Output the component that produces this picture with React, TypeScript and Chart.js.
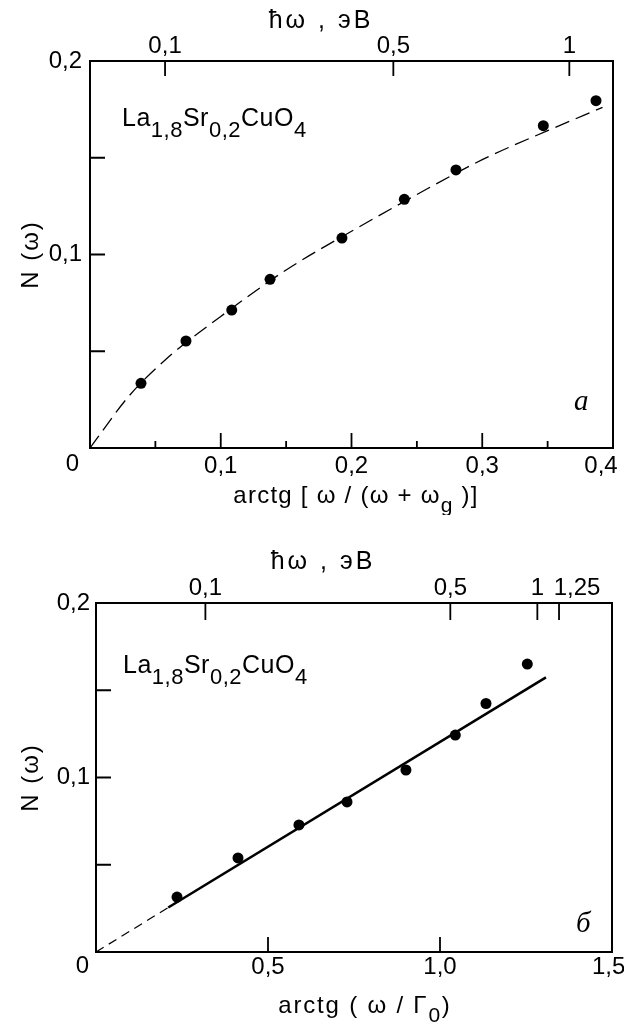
import React, { useEffect, useRef } from "react";
import { Chart, registerables } from "chart.js";

Chart.register(...registerables);
Chart.defaults.color = "#000";

const FONT = '"Liberation Sans", Arial, Helvetica, sans-serif';
const SERIF = '"Liberation Serif", "Times New Roman", serif';

// ---------- Panel a ----------
const aPointsX = [0.039, 0.0734, 0.1084, 0.1377, 0.1927, 0.2404, 0.2799, 0.3467, 0.387];
const aPointsY = [0.0334, 0.0553, 0.0713, 0.0872, 0.1085, 0.1285, 0.1437, 0.1666, 0.1795];
const aCurveX = [0, 0.03, 0.06, 0.1, 0.15, 0.2, 0.25, 0.3, 0.35, 0.392];
const aCurveY = [0, 0.027, 0.047, 0.068, 0.092, 0.112, 0.131, 0.149, 0.164, 0.176];
const aBottomTicks = [0, 0.1, 0.2, 0.3, 0.4];
const aBottomTickLabels = ["", "0,1", "0,2", "0,3", "0,4\u2002\u2002"];
const aBottomMinor = [0.05, 0.15, 0.25, 0.35];
const aBottomMajor = [0.1, 0.2, 0.3];
const aTopTickPos = [0.0574, 0.232, 0.3666];
const aTopTickLabels = ["0,1", "0,5", "1"];

// ---------- Panel б ----------
const bPointsX = [0.2355, 0.4128, 0.59, 0.7297, 0.901, 1.0445, 1.1337, 1.2538];
const bPointsY = [0.0315, 0.0539, 0.0728, 0.086, 0.1043, 0.1243, 0.1424, 0.165];
const bFitX = [0.21, 1.308];
const bFitY = [0.0255, 0.1574];
const bDashX = [0, 0.21];
const bDashY = [0, 0.0255];
const bBottomTicks = [0, 0.5, 1.0, 1.5];
const bBottomTickLabels = ["", "0,5", "1,0", "1,5 "];
const bBottomMajor = [0.5, 1.0];
const bTopTickPos = [0.318, 1.03, 1.283, 1.346];
const bTopTickLabels = ["0,1", "0,5", "1", "\u2002\u2002\u20021,25"];

// shared y axis
const yTicks = [0, 0.1, 0.2];
const yTickLabels = ["", "0,1", "0,2"];
const yInnerTicks = [0.05, 0.1, 0.15];

type Run = { t: string; sub?: boolean };

function drawRuns(
  ctx: CanvasRenderingContext2D,
  runs: Run[],
  x: number,
  y: number,
  size: number,
  subSize: number,
  subDrop: number,
  align: "left" | "center",
  spacing = 0,
  family = FONT
) {
  (ctx as any).letterSpacing = `${spacing}px`;
  const widths = runs.map((r) => {
    ctx.font = `${r.sub ? subSize : size}px ${family}`;
    return ctx.measureText(r.t).width;
  });
  const total = widths.reduce((a, b) => a + b, 0);
  let cx = align === "center" ? x - total / 2 : x;
  ctx.textAlign = "left";
  ctx.textBaseline = "alphabetic";
  runs.forEach((r, i) => {
    ctx.font = `${r.sub ? subSize : size}px ${family}`;
    ctx.fillText(r.t, cx, r.sub ? y + subDrop : y);
    cx += widths[i];
  });
  (ctx as any).letterSpacing = "0px";
}

type PanelCfg = {
  height: number;
  xMax: number;
  padRight: number;
  leftW: number;
  topH: number;
  bottomH: number;
  yTickPad: number;
  xTickPad: number;
  x2TickPad: number;
  pointsX: number[];
  pointsY: number[];
  lines: { x: number[]; y: number[]; dash: number[]; width: number; smooth: boolean }[];
  bottomTicks: number[];
  bottomLabels: string[];
  bottomMajor: number[];
  bottomMinor: number[];
  topPos: number[];
  topLabels: string[];
  topTickLen: number;
  topTitle: { x: number; y: number };
  xTitle: Run[];
  xTitlePos: { x: number; y: number };
  xTitleSpacing: number;
  formulaPos: { x: number; y: number };
  letter: string;
  letterPos: { x: number; y: number };
  zeroPos: { x: number; y: number };
};

const formula: Run[] = [
  { t: "La" },
  { t: "1,8", sub: true },
  { t: "Sr" },
  { t: "0,2", sub: true },
  { t: "CuO" },
  { t: "4", sub: true },
];

const panelA: PanelCfg = {
  height: 515,
  xMax: 0.4,
  padRight: 11,
  leftW: 90,
  topH: 61,
  bottomH: 67,
  yTickPad: 8,
  xTickPad: 4,
  x2TickPad: 0,
  pointsX: aPointsX,
  pointsY: aPointsY,
  lines: [{ x: aCurveX, y: aCurveY, dash: [15, 7], width: 1.3, smooth: true }],
  bottomTicks: aBottomTicks,
  bottomLabels: aBottomTickLabels,
  bottomMajor: aBottomMajor,
  bottomMinor: aBottomMinor,
  topPos: aTopTickPos,
  topLabels: aTopTickLabels,
  topTickLen: 15,
  topTitle: { x: 321, y: 28 },
  xTitle: [{ t: "arctg [ ω / (ω + ω" }, { t: "g", sub: true }, { t: " )]" }],
  xTitlePos: { x: 356, y: 503 },
  xTitleSpacing: 1.25,
  formulaPos: { x: 122, y: 126 },
  letter: "a",
  letterPos: { x: 574, y: 410 },
  zeroPos: { x: 72.5, y: 464 },
};

const panelB: PanelCfg = {
  height: 508,
  xMax: 1.5,
  padRight: 12,
  leftW: 96,
  topH: 88,
  bottomH: 71,
  yTickPad: 6,
  xTickPad: 1,
  x2TickPad: 0,
  pointsX: bPointsX,
  pointsY: bPointsY,
  lines: [
    { x: bDashX, y: bDashY, dash: [9, 6], width: 1.2, smooth: false },
    { x: bFitX, y: bFitY, dash: [], width: 2.6, smooth: false },
  ],
  bottomTicks: bBottomTicks,
  bottomLabels: bBottomTickLabels,
  bottomMajor: bBottomMajor,
  bottomMinor: [],
  topPos: bTopTickPos,
  topLabels: bTopTickLabels,
  topTickLen: 17,
  topTitle: { x: 323, y: 54 },
  xTitle: [{ t: "arctg ( ω / Γ" }, { t: "0", sub: true }, { t: ")" }],
  xTitlePos: { x: 365, y: 498 },
  xTitleSpacing: 1.8,
  formulaPos: { x: 123, y: 158 },
  letter: "б",
  letterPos: { x: 576, y: 417 },
  zeroPos: { x: 82.5, y: 451 },
};

function Panel({ cfg, top }: { cfg: PanelCfg; top: number }) {
  const ref = useRef<HTMLCanvasElement | null>(null);
  useEffect(() => {
    if (!ref.current) return;
    const tickFont = { family: FONT, size: 24 };
    const decor = {
      id: "decor",
      afterDraw(chart: any) {
        const ctx: CanvasRenderingContext2D = chart.ctx;
        const xs = chart.scales.x;
        const ys = chart.scales.y;
        const x2 = chart.scales.x2;
        const area = chart.chartArea;
        ctx.save();
        ctx.strokeStyle = "#000";
        ctx.fillStyle = "#000";
        ctx.lineWidth = 1.8;
        ctx.beginPath();
        cfg.bottomMajor.forEach((v) => {
          const px = xs.getPixelForValue(v);
          ctx.moveTo(px, area.bottom);
          ctx.lineTo(px, area.bottom - 15);
        });
        cfg.bottomMinor.forEach((v) => {
          const px = xs.getPixelForValue(v);
          ctx.moveTo(px, area.bottom);
          ctx.lineTo(px, area.bottom - 7);
        });
        yInnerTicks.forEach((v) => {
          const py = ys.getPixelForValue(v);
          ctx.moveTo(area.left, py);
          ctx.lineTo(area.left + 15, py);
        });
        cfg.topPos.forEach((v) => {
          const px = x2.getPixelForValue(v);
          ctx.moveTo(px, area.top);
          ctx.lineTo(px, area.top + cfg.topTickLen);
        });
        ctx.stroke();

        // texts
        ctx.textAlign = "center";
        ctx.textBaseline = "middle";
        ctx.font = `24px ${FONT}`;
        ctx.fillText("0", cfg.zeroPos.x, cfg.zeroPos.y);

        drawRuns(ctx, [{ t: "ħω , эВ" }], cfg.topTitle.x, cfg.topTitle.y, 25, 25, 0, "center", 3);
        drawRuns(ctx, cfg.xTitle, cfg.xTitlePos.x, cfg.xTitlePos.y, 24, 21, 9, "center", cfg.xTitleSpacing);
        drawRuns(ctx, formula, cfg.formulaPos.x, cfg.formulaPos.y, 25, 22, 11, "left", 0.5);

        // y axis title (rotated)
        ctx.save();
        ctx.translate(31, (area.top + area.bottom) / 2);
        ctx.rotate(-Math.PI / 2);
        (ctx as any).letterSpacing = "2px";
        ctx.font = `24px ${FONT}`;
        ctx.textAlign = "center";
        ctx.textBaseline = "middle";
        ctx.fillText("N (ω)", 0, 0);
        ctx.restore();

        ctx.font = `italic 29px ${SERIF}`;
        ctx.textAlign = "left";
        ctx.textBaseline = "alphabetic";
        ctx.fillText(cfg.letter, cfg.letterPos.x, cfg.letterPos.y);
        ctx.restore();
      },
    };

    const datasets: any[] = cfg.lines.map((l) => ({
      type: "line",
      data: l.x.map((x, i) => ({ x, y: l.y[i] })),
      borderColor: "#000",
      borderWidth: l.width,
      borderDash: l.dash,
      pointRadius: 0,
      fill: false,
      showLine: true,
      cubicInterpolationMode: l.smooth ? "monotone" : "default",
      xAxisID: "x",
      yAxisID: "y",
      order: 2,
    }));
    datasets.push({
      type: "scatter",
      data: cfg.pointsX.map((x, i) => ({ x, y: cfg.pointsY[i] })),
      backgroundColor: "#000",
      borderColor: "#000",
      pointRadius: 5.5,
      pointBorderWidth: 0,
      xAxisID: "x",
      yAxisID: "y",
      order: 1,
    });

    const border = { display: true, color: "#000", width: 2 };
    const grid = { display: false, drawTicks: false };
    const chart = new Chart(ref.current, {
      type: "scatter",
      data: { datasets },
      plugins: [decor],
      options: {
        animation: false,
        responsive: false,
        maintainAspectRatio: false,
        devicePixelRatio: 1,
        layout: { padding: { left: 0, right: cfg.padRight, top: 0, bottom: 0 } },
        plugins: { legend: { display: false }, tooltip: { enabled: false } },
        scales: {
          x: {
            type: "linear",
            position: "bottom",
            min: 0,
            max: cfg.xMax,
            grid,
            border,
            afterBuildTicks: (s: any) => {
              s.ticks = cfg.bottomTicks.map((value) => ({ value }));
            },
            afterFit: (s: any) => {
              s.height = cfg.bottomH;
              s.paddingLeft = 0;
              s.paddingRight = 0;
            },
            ticks: {
              autoSkip: false,
              maxRotation: 0,
              padding: cfg.xTickPad,
              font: tickFont,
              color: "#000",
              callback: (_v: any, i: number) => cfg.bottomLabels[i],
            },
          },
          x2: {
            type: "linear",
            position: "top",
            min: 0,
            max: cfg.xMax,
            grid,
            border,
            afterBuildTicks: (s: any) => {
              s.ticks = cfg.topPos.map((value) => ({ value }));
            },
            afterFit: (s: any) => {
              s.height = cfg.topH;
              s.paddingLeft = 0;
              s.paddingRight = 0;
            },
            ticks: {
              autoSkip: false,
              maxRotation: 0,
              padding: cfg.x2TickPad,
              font: tickFont,
              color: "#000",
              callback: (_v: any, i: number) => cfg.topLabels[i],
            },
          },
          y: {
            type: "linear",
            position: "left",
            min: 0,
            max: 0.2,
            grid,
            border,
            afterBuildTicks: (s: any) => {
              s.ticks = yTicks.map((value) => ({ value }));
            },
            afterFit: (s: any) => {
              s.width = cfg.leftW;
              s.paddingTop = 0;
              s.paddingBottom = 0;
            },
            ticks: {
              autoSkip: false,
              padding: cfg.yTickPad,
              font: tickFont,
              color: "#000",
              callback: (_v: any, i: number) => yTickLabels[i],
            },
          },
          y2: {
            type: "linear",
            position: "right",
            min: 0,
            max: 0.2,
            grid,
            border,
            ticks: { display: false },
            afterFit: (s: any) => {
              s.width = 0;
            },
          },
        },
      } as any,
    });
    return () => chart.destroy();
  }, [cfg]);
  return (
    <canvas
      ref={ref}
      width={624}
      height={cfg.height}
      style={{ position: "absolute", left: 0, top, width: 624, height: cfg.height }}
    />
  );
}

export default function App() {
  return (
    <div style={{ position: "absolute", left: 0, top: 0, width: 624, height: 1023, background: "#fff", overflow: "hidden" }}>
      <Panel cfg={panelA} top={0} />
      <Panel cfg={panelB} top={515} />
    </div>
  );
}
